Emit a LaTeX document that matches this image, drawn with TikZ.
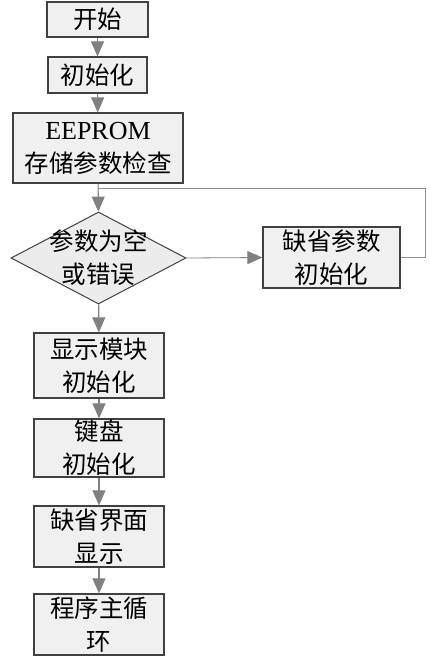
\documentclass[tikz,border=0pt]{standalone}
\usepackage{fontspec}
\setmainfont{Liberation Serif}
\newfontfamily\cjk{Noto Sans CJK SC}
\usetikzlibrary{arrows.meta,shapes.geometric}

\tikzset{
  stepbox/.style={draw=black!75, fill=gray!12, line width=1.2pt, inner sep=0pt,
    align=center, font=\cjk\fontsize{24.5}{33}\selectfont},
  decision/.style={diamond, draw=black!75, fill=gray!15, line width=1pt, inner sep=0pt,
    minimum width=175pt, minimum height=92pt, aspect=1.9},
  flow/.style={draw=black!50, line width=1.1pt, -{Triangle[width=13pt,length=15pt]}},
  backline/.style={draw=black!45, line width=0.8pt}
}

\begin{document}
\begin{tikzpicture}[x=1pt,y=-1pt]
\useasboundingbox (0,0) rectangle (430,659);
% main column
\node (start) [stepbox, minimum width=101pt, minimum height=35pt] at (97.5,19.5) {开始};
\node (init) [stepbox, minimum width=99pt, minimum height=36pt] at (97.5,75) {初始化};
\node (eeprom) [stepbox, minimum width=170pt, minimum height=70pt] at (98,148) {{\rmfamily\fontsize{26}{33}\selectfont EEPROM}\\存储参数检查};
\node (check) [decision, label={[align=center, font=\cjk\fontsize{24.5}{33}\selectfont]center:参数为空\\或错误}] at (98.5,258) {};
\node (default) [stepbox, minimum width=137pt, minimum height=61pt] at (331.5,257.5) {缺省参数\\初始化};
\node (disp) [stepbox, minimum width=130pt, minimum height=65pt] at (99,365.5) {显示模块\\初始化};
\node (keys) [stepbox, minimum width=130pt, minimum height=58pt] at (99,448) {键盘\\初始化};
\node (ui) [stepbox, minimum width=130pt, minimum height=61pt] at (99,536.5) {缺省界面\\显示};
\node (mainloop) [stepbox, minimum width=130pt, minimum height=61pt] at (99,624.5) {程序主循\\环};

% connectors
\draw[flow] (start) -- (init);
\draw[flow] (init) -- (eeprom);
\draw[flow] (eeprom) -- (check);
\draw[flow, line width=0.8pt] (check.east) -- (default.west);
\draw[flow] (check) -- (disp);
\draw[flow] (disp) -- (keys);
\draw[flow] (keys) -- (ui);
\draw[flow] (ui) -- (mainloop);

% loop back to the check
\coordinate (join) at (98,188);
\coordinate (corner) at (425,188);
\draw[backline] (default.east) -| (corner) -- (join);
\end{tikzpicture}
\end{document}
